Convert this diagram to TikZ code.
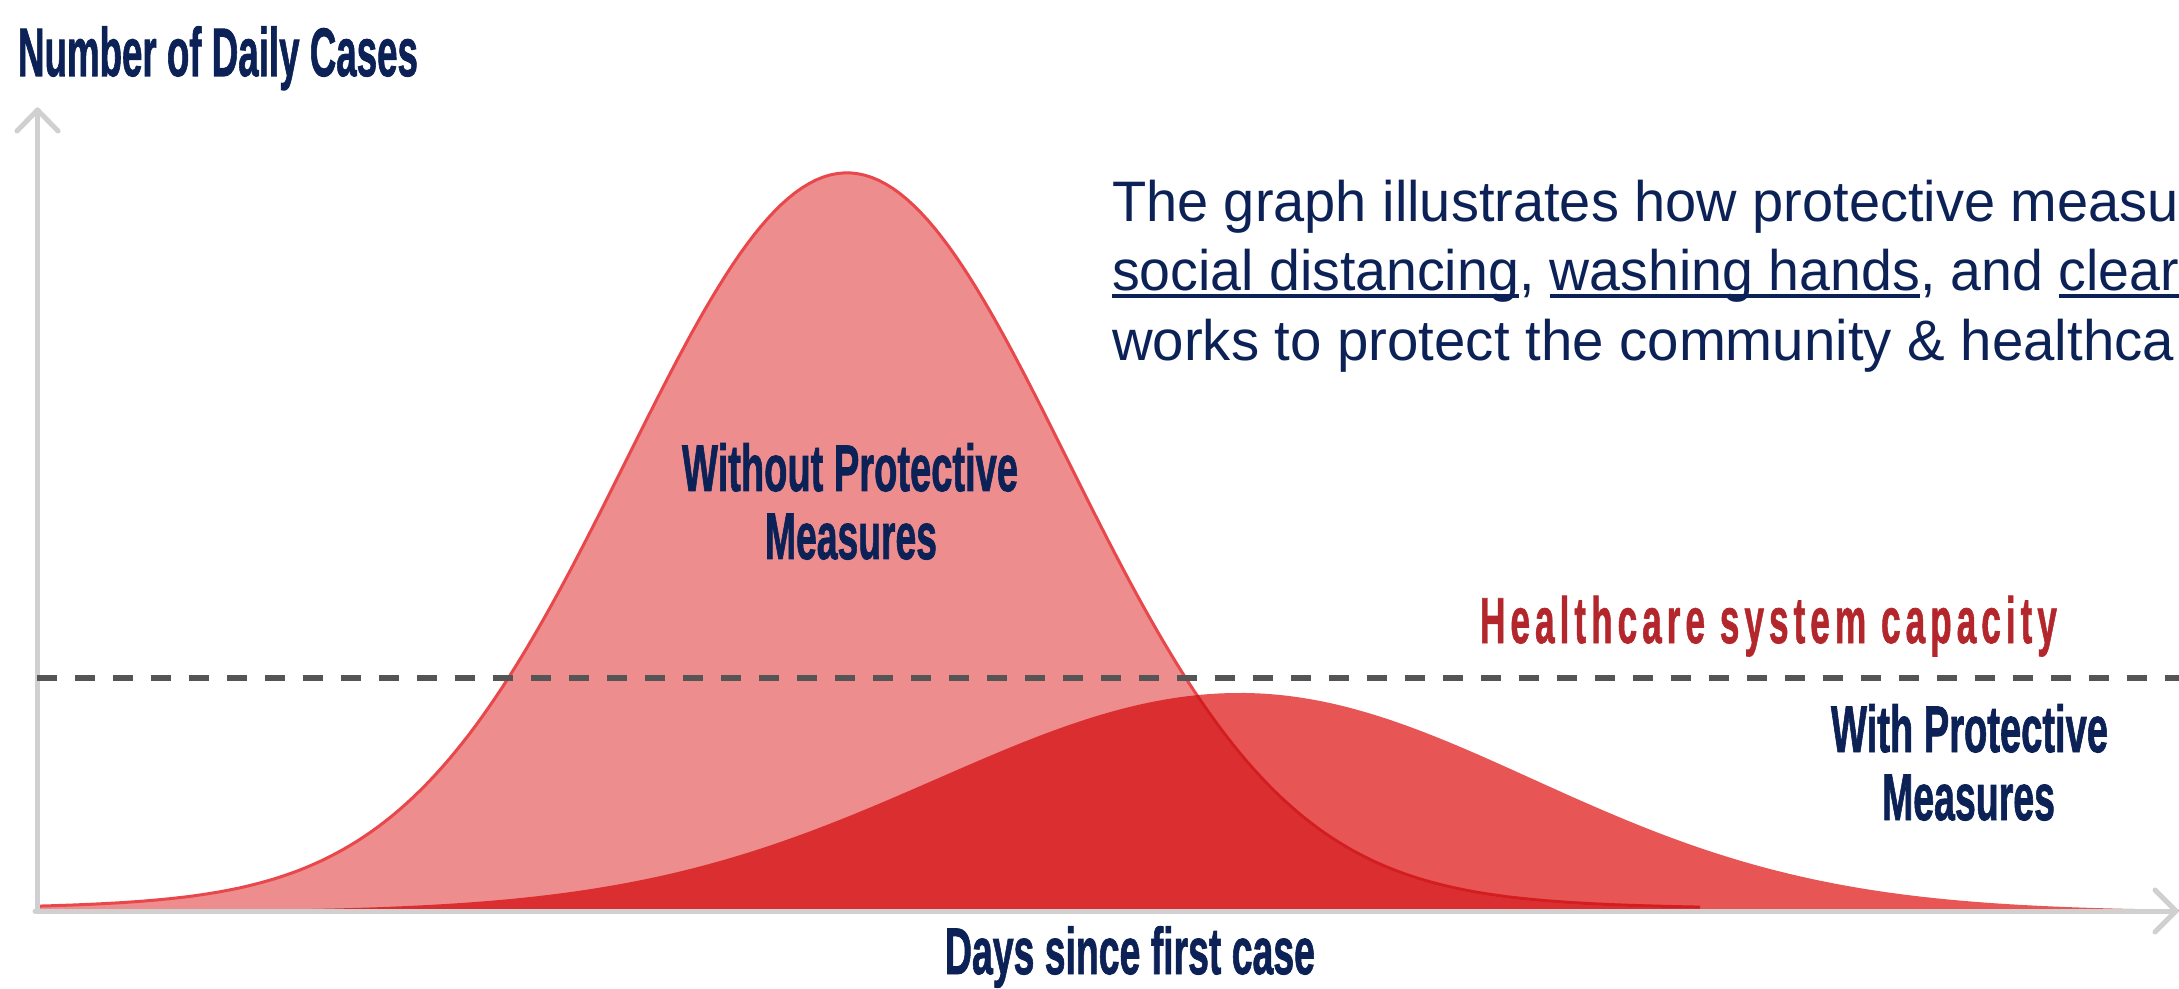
\documentclass[tikz,border=0pt]{standalone}
\usepackage{fontspec}
\usepackage{graphicx}
\setmainfont{Liberation Sans}
\newfontfamily\labfont[FakeBold=1.5]{Liberation Sans Bold}
\newfontfamily\capfont[LetterSpace=14,FakeBold=1.2]{Liberation Sans Bold}
\definecolor{navy}{HTML}{0C2257}
\definecolor{capred}{HTML}{B3262B}
\definecolor{axisgray}{HTML}{D0D0D0}
\definecolor{dashgray}{HTML}{555555}
\definecolor{withoutfill}{HTML}{EE8D8D}
\definecolor{withfill}{HTML}{E85555}
\definecolor{overlapfill}{HTML}{DB2E30}
\definecolor{outlinered}{HTML}{E8474B}
\definecolor{outlinedark}{HTML}{D21E20}
\newlength\pxu
\setlength\pxu{0.2mm}
\newcommand\cw[2]{\resizebox{#1\pxu}{\height}{#2}}
\newsavebox\ulbox
\newcommand\myul[1]{\sbox\ulbox{#1}\rlap{\rule[-0.125em]{\wd\ulbox}{0.07em}}\usebox\ulbox}
\tikzset{
  lab/.style={inner sep=0pt, outer sep=0pt, text=navy, anchor=base west,
    font=\fontsize{37.5pt}{40pt}\selectfont\labfont},
  para/.style={inner sep=0pt, outer sep=0pt, text=navy, anchor=base west,
    font=\fontsize{32.5pt}{35pt}\selectfont},
  axisline/.style={draw=axisgray, line width=1mm, line cap=round, line join=round},
  capline/.style={draw=dashgray, line width=1.2mm, dash pattern=on 4mm off 3.6mm},
}
% curve heights (y grows downwards, baseline 911)
\def\woy{911-723*exp(-0.5*((\t-847)/220)^2)-15*exp(-0.5*((\t-847)/500)^2)}
\def\wly{911-218*exp(-0.5*((\t-1240)/303)^2)}
\def\wry{911-218*exp(-0.5*((\t-1240)/292)^2)}
\def\withoutline{plot[domain=37:1700, samples=240, variable=\t] ({\t},{\woy})}
\def\withoutpath{(37,911) -- plot[domain=37:1700, samples=240, variable=\t] ({\t},{\woy}) -- (1700,911) -- cycle}
\def\withpath{(37,911) -- plot[domain=37:1240, samples=160, variable=\t] ({\t},{\wly}) -- plot[domain=1240:2179, samples=160, variable=\t] ({\t},{\wry}) -- (2179,911) -- cycle}
\begin{document}
\begin{tikzpicture}[x=0.2mm, y=-0.2mm]
\useasboundingbox (0,0) rectangle (2179,989);
\clip (0,0) rectangle (2179,989);
\fill[white] (0,0) rectangle (2179,989);
% curves
\fill[withfill] \withpath;
\fill[withoutfill] \withoutpath;
\begin{scope}
  \clip \withpath;
  \fill[overlapfill] \withoutpath;
\end{scope}
\draw[outlinered, line width=0.6mm] \withoutline;
\begin{scope}
  \clip \withpath;
  \draw[outlinedark, line width=0.6mm] \withoutline;
\end{scope}
% axes
\coordinate (O) at (37.5,911);
\coordinate (Ytop) at (37.5,110);
\coordinate (Xend) at (2176,911);
\coordinate (capL) at (37,678);
\coordinate (capR) at (2179,678);
\draw[axisline] (O) -- (Ytop);
\draw[axisline] (Ytop) ++(-20.5,21) -- (Ytop) -- ++(20.5,21);
\draw[axisline] (35,911) -- (Xend);
\draw[axisline] (Xend) ++(-21,-21) -- (Xend) -- ++(-21,21);
% capacity line
\draw[capline] (capL) -- (capR);
% labels
\node[lab, font=\fontsize{39pt}{42pt}\selectfont\labfont] (title) at (18,76) {\cw{400}{Number of Daily Cases}};
\node[lab] (wo1) at (682,491) {\cw{336}{Without Protective}};
\node[lab] (wo2) at (765,559) {\cw{172}{Measures}};
\node[lab, text=capred, font=\fontsize{37pt}{40pt}\selectfont\capfont] (cap) at (1480,643) {\cw{577}{Healthcare system capacity}};
\node[lab] (wi1) at (1831,752) {\cw{277}{With Protective}};
\node[lab] (wi2) at (1882,820) {\cw{173}{Measures}};
\node[lab] (days) at (945,974) {\cw{370}{Days since first case}};
% paragraph
\node[para] (p1) at (1112,222) {\cw{1067}{The graph illustrates how protective measu}};
\node[para] (p2) at (1112,291) {\cw{1067}{\myul{social distancing}, \myul{washing hands}, and \myul{clear}}};
\node[para] (p3) at (1112,361) {\cw{1062}{works to protect the community \& healthca}};
\end{tikzpicture}
\end{document}
